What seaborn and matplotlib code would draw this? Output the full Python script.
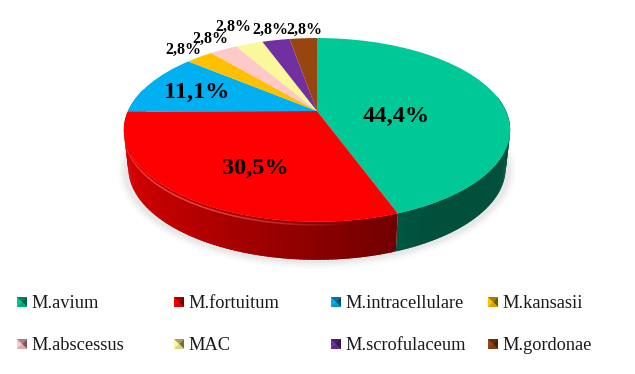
import numpy as np
import matplotlib
matplotlib.use('Agg')
import matplotlib.pyplot as plt
import seaborn as sns
from matplotlib.patches import Ellipse
from matplotlib.transforms import Transform

species = ['M.avium', 'M.fortuitum', 'M.intracellulare', 'M.kansasii',
           'M.abscessus', 'MAC', 'M.scrofulaceum', 'M.gordonae']
shares = [44.4, 30.5, 11.1, 2.8, 2.8, 2.8, 2.8, 2.8]
colors = ['#00C896', '#FF0000', '#00B0F0', '#FFC000',
          '#FFC9C9', '#FBF89B', '#7030A0', '#974610']

# label centres in pixels
label_xy = [(396, 116), (255, 168), (197, 92), (183, 50),
            (210, 39), (233, 27), (270, 30), (304, 30)]
label_size = [17.5, 17.5, 17.5, 11.5, 11.5, 11.5, 11.5, 11.5]

# pie geometry in pixels
CX, CY = 317, 111
A, B, P = 189, 88, 0.206
DEPTH = 38
FLOOR_SCALE = 0.977


def project(u, v):
    return CX + A * u / (1 + P * v), CY - B * v / (1 + P * v)


class Perspective(Transform):
    """Tilts the unit pie into the picture plane."""
    input_dims = 2
    output_dims = 2
    is_separable = False
    has_inverse = False

    def transform_non_affine(self, values):
        values = np.asarray(values, dtype=float)
        x, y = project(values[:, 0], values[:, 1])
        return np.column_stack([x, y])


def side_shade(u):
    return np.clip(0.42 + 0.307 * (0.4 - u), 0.4, 0.86)


sns.set_theme(style='white')
plt.rcParams['font.family'] = ['Liberation Serif', 'DejaVu Serif']

fig = plt.figure(figsize=(6.35, 3.74), dpi=100)
ax = fig.add_axes([0, 0, 1, 1])
palette = sns.color_palette(colors)

wedges, _ = ax.pie(shares, colors=palette, startangle=90, counterclock=False,
                   wedgeprops={'linewidth': 0})
persp = Perspective()
for w in wedges:
    w.set_transform(persp + ax.transData)
    w.set_zorder(5)

ax.set_aspect('auto')
ax.set_xlim(0, 635)
ax.set_ylim(374, 0)
ax.axis('off')

# soft shadow under the pie
for grow, alpha in zip([14, 10, 6, 2], [0.03, 0.04, 0.05, 0.06]):
    ax.add_patch(Ellipse((317, 130 + DEPTH + 2), 384 + grow, 184 + grow,
                         facecolor='#808080', edgecolor='none', alpha=alpha, zorder=1))

# side wall, split in thin strips for the gradient
edges = np.concatenate([[0], np.cumsum(shares)]) / np.sum(shares) * 360
for i, c in enumerate(palette):
    start, stop = max(edges[i], 80), min(edges[i + 1], 285)
    if stop <= start:
        continue
    steps = np.linspace(start, stop, int(stop - start) + 2)
    for a0, a1 in zip(steps[:-1], steps[1:]):
        # strips overlap a little so no seams show
        t = np.radians([a0, min(a1 + 0.8, stop)])
        x, y = project(np.sin(t), np.cos(t))
        shade = side_shade(np.sin(t).mean())
        strip = np.array(c) * shade
        fx = CX + (x - CX) * FLOOR_SCALE
        ax.fill([x[0], x[1], fx[1], fx[0]],
                [y[0], y[1], y[1] + DEPTH, y[0] + DEPTH],
                color=strip, lw=0, zorder=3)

# light bevel along the red rim, fading out at both ends
angles = np.linspace(170, 262, 47)
for a0, a1 in zip(angles[:-1], angles[1:]):
    t = np.radians([a0, a1])
    x, y = project(np.sin(t), np.cos(t))
    fade = np.sin(np.pi * (a0 - 170) / 92)
    ax.plot(x, y + 3, color='#FF7070', lw=1.2, alpha=0.6 * fade,
            solid_capstyle='butt', zorder=4)

for s, xy, fs in zip(shares, label_xy, label_size):
    ax.text(xy[0], xy[1], f'{s:.1f}%'.replace('.', ','), fontsize=fs, fontweight='bold',
            color='black', ha='center', va='center', zorder=6)

# legend: two rows of four, bevelled squares
col_x = [22, 179, 336, 493]
row_y = [302, 344]
for i, (name, c) in enumerate(zip(species, palette)):
    mx, my = col_x[i % 4], row_y[i // 4]
    h = 5
    base = np.array(c)
    ax.fill([mx - h, mx + h, mx + h, mx - h], [my - h, my - h, my + h, my + h],
            color=base, lw=0, zorder=6)
    ax.fill([mx - h, mx + h, mx], [my - h, my - h, my],
            color=base * 0.65, lw=0, zorder=7)
    ax.fill([mx + h, mx, mx + h], [my - h, my, my + h],
            color=base * 0.45, lw=0, zorder=7)
    ax.fill([mx - h, mx + h, mx], [my + h, my + h, my],
            color=base * 0.85, lw=0, zorder=7)
    ax.text(mx + 9, my + 1, name, fontsize=13.2, color='#1a1a1a', ha='left', va='center', zorder=7)

fig.savefig('out.png', dpi=100)
